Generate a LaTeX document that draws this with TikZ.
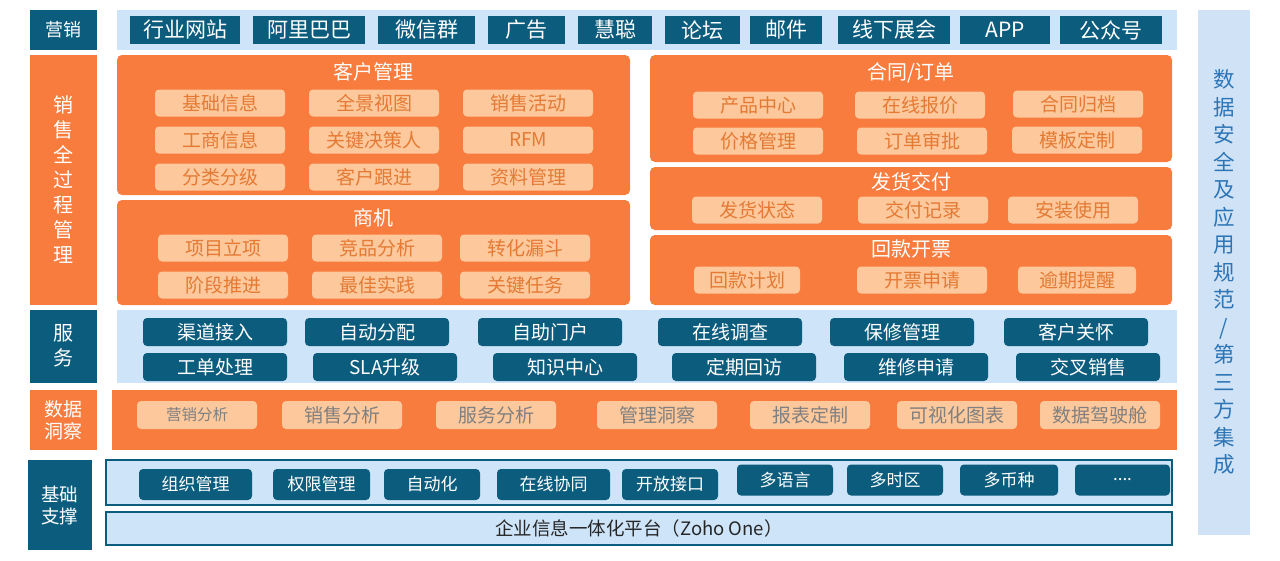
\documentclass[tikz,border=0pt]{standalone}
\usepackage{fontspec}
\setmainfont{Noto Sans CJK SC}
\definecolor{dblue}{RGB}{12,92,126}
\definecolor{lblue}{RGB}{206,228,248}
\definecolor{rblue}{RGB}{208,227,246}
\definecolor{rtext}{RGB}{46,117,182}
\definecolor{orng}{RGB}{248,124,62}
\definecolor{peach}{RGB}{252,200,156}
\definecolor{otext}{RGB}{228,122,52}
\definecolor{gtext}{RGB}{128,128,128}
\begin{document}
\begin{tikzpicture}[x=1pt,y=-1pt,
  every node/.style={inner sep=0pt,outer sep=0pt},
  area/.style={anchor=north west},
  topitem/.style={fill=dblue,text=white,minimum height=28pt,font=\fontsize{21}{23}\selectfont},
  pitem/.style={fill=peach,rounded corners=4pt,text=otext,minimum height=27pt,minimum width=130pt,font=\fontsize{19}{21}\selectfont},
  gitem/.style={fill=peach,rounded corners=4pt,text=gtext,minimum height=28pt,minimum width=120pt,font=\fontsize{19}{21}\selectfont},
  sitem/.style={fill=dblue,rounded corners=4pt,text=white,minimum height=28pt,minimum width=144pt,font=\fontsize{19}{21}\selectfont},
  fitem/.style={fill=dblue,rounded corners=4pt,text=white,minimum height=31pt,font=\fontsize{17}{19}\selectfont},
  ttl/.style={text=white,font=\fontsize{20}{22}\selectfont},
  lbl/.style={text=white,align=center}
]
\useasboundingbox (0,0) rectangle (1280,560);

% ---------- marketing row
\node[area,fill=dblue,minimum width=67pt,minimum height=40pt] (mkl) at (30,10) {};
\node[lbl,font=\fontsize{18}{20}\selectfont] (mklt) at (mkl.center) {营销};
\node[area,fill=lblue,minimum width=1060pt,minimum height=40pt] (mkb) at (117,10) {};
\node[topitem,minimum width=110pt] (t1) at (185,30) {行业网站};
\node[topitem,minimum width=112pt] (t2) at (309,30) {阿里巴巴};
\node[topitem,minimum width=97pt] (t3) at (426.5,30) {微信群};
\node[topitem,minimum width=77pt] (t4) at (526.5,30) {广告};
\node[topitem,minimum width=74pt] (t5) at (615,30) {慧聪};
\node[topitem,minimum width=75pt] (t6) at (702.5,30) {论坛};
\node[topitem,minimum width=72pt] (t7) at (786,30) {邮件};
\node[topitem,minimum width=112pt] (t8) at (894,30) {线下展会};
\node[topitem,minimum width=90pt] (t9) at (1005,30) {APP};
\node[topitem,minimum width=102pt] (t10) at (1111,30) {公众号};

% ---------- right band
\node[area,fill=rblue,minimum width=52pt,minimum height=525pt] (rb) at (1198,10) {};
\node[text=rtext,align=center,font=\fontsize{21.5}{27.5}\selectfont] (rbt) at (1224,272)
  {数\\据\\安\\全\\及\\应\\用\\规\\范\\/\\第\\三\\方\\集\\成};

% ---------- sales process
\node[area,fill=orng,minimum width=67pt,minimum height=250pt] (spl) at (30,55) {};
\node[lbl,font=\fontsize{20}{25}\selectfont] (splt) at (63.5,180) {销\\售\\全\\过\\程\\管\\理};

% customer management
\node[area,fill=orng,rounded corners=5pt,minimum width=513pt,minimum height=140pt] (km) at (117,55) {};
\node[ttl] (kmt) at (373.5,72) {客户管理};
\node[pitem] (k11) at (220,103) {基础信息};
\node[pitem] (k12) at (374,103) {全景视图};
\node[pitem] (k13) at (528,103) {销售活动};
\node[pitem] (k21) at (220,140) {工商信息};
\node[pitem] (k22) at (374,140) {关键决策人};
\node[pitem] (k23) at (528,140) {RFM};
\node[pitem] (k31) at (220,177) {分类分级};
\node[pitem] (k32) at (374,177) {客户跟进};
\node[pitem] (k33) at (528,177) {资料管理};

% opportunity
\node[area,fill=orng,rounded corners=5pt,minimum width=513pt,minimum height=105pt] (sj) at (117,200) {};
\node[ttl] (sjt) at (373.5,218) {商机};
\node[pitem] (s11) at (223,248) {项目立项};
\node[pitem] (s12) at (377,248) {竞品分析};
\node[pitem] (s13) at (525,248) {转化漏斗};
\node[pitem] (s21) at (223,285) {阶段推进};
\node[pitem] (s22) at (377,285) {最佳实践};
\node[pitem] (s23) at (525,285) {关键任务};

% contract / order
\node[area,fill=orng,rounded corners=5pt,minimum width=522pt,minimum height=107pt] (ht) at (650,55) {};
\node[ttl] (htt) at (911,73) {合同/订单};
\node[pitem] (h11) at (758,105) {产品中心};
\node[pitem] (h12) at (920,105) {在线报价};
\node[pitem] (h13) at (1078,104) {合同归档};
\node[pitem] (h21) at (758,141) {价格管理};
\node[pitem] (h22) at (922,141) {订单审批};
\node[pitem] (h23) at (1077,140) {模板定制};

% delivery
\node[area,fill=orng,rounded corners=5pt,minimum width=522pt,minimum height=63pt] (fh) at (650,167) {};
\node[ttl] (fht) at (911,182) {发货交付};
\node[pitem] (f1) at (757,210) {发货状态};
\node[pitem] (f2) at (923,210) {交付记录};
\node[pitem] (f3) at (1073,210) {安装使用};

% payment / invoice
\node[area,fill=orng,rounded corners=5pt,minimum width=522pt,minimum height=70pt] (hk) at (650,235) {};
\node[ttl] (hkt) at (911,249) {回款开票};
\node[pitem,minimum width=106pt] (p1) at (747,280) {回款计划};
\node[pitem] (p2) at (922,280) {开票申请};
\node[pitem,minimum width=118pt] (p3) at (1077,280) {逾期提醒};

% ---------- service
\node[area,fill=dblue,minimum width=67pt,minimum height=73pt] (svl) at (30,310) {};
\node[lbl,font=\fontsize{20}{25}\selectfont] (svlt) at (63.5,346) {服\\务};
\node[area,fill=lblue,minimum width=1060pt,minimum height=73pt] (svb) at (117,310) {};
\node[sitem] (v11) at (215,332) {渠道接入};
\node[sitem] (v12) at (377,332) {自动分配};
\node[sitem] (v13) at (550,332) {自助门户};
\node[sitem] (v14) at (730,332) {在线调查};
\node[sitem] (v15) at (902,332) {保修管理};
\node[sitem] (v16) at (1076,332) {客户关怀};
\node[sitem] (v21) at (215,367) {工单处理};
\node[sitem] (v22) at (385,367) {SLA升级};
\node[sitem] (v23) at (565,367) {知识中心};
\node[sitem] (v24) at (744,367) {定期回访};
\node[sitem] (v25) at (916,367) {维修申请};
\node[sitem] (v26) at (1088,367) {交叉销售};

% ---------- data insight
\node[area,fill=orng,minimum width=67pt,minimum height=60pt] (dil) at (30,390) {};
\node[lbl,font=\fontsize{19}{22}\selectfont] (dilt) at (63.5,420) {数据\\洞察};
\node[area,fill=orng,minimum width=1065pt,minimum height=60pt] (dib) at (112,390) {};
\node[gitem,font=\fontsize{15.5}{17}\selectfont] (d1) at (197,415) {营销分析};
\node[gitem] (d2) at (342,415) {销售分析};
\node[gitem] (d3) at (496,415) {服务分析};
\node[gitem] (d4) at (657,415) {管理洞察};
\node[gitem] (d5) at (810,415) {报表定制};
\node[gitem] (d6) at (957,415) {可视化图表};
\node[gitem] (d7) at (1100,415) {数据驾驶舱};

% ---------- foundation
\node[area,fill=dblue,minimum width=64pt,minimum height=90pt] (fdl) at (28,460) {};
\node[lbl,font=\fontsize{18.5}{22}\selectfont] (fdlt) at (60,505) {基础\\支撑};
\node[area,fill=lblue,draw=dblue,line width=1.5pt,minimum width=1066pt,minimum height=45pt] (fdb) at (106,460) {};
\node[fitem,minimum width=113pt] (b1) at (195.5,484.5) {组织管理};
\node[fitem,minimum width=97pt] (b2) at (321.5,484.5) {权限管理};
\node[fitem,minimum width=96pt] (b3) at (432,484.5) {自动化};
\node[fitem,minimum width=113pt] (b4) at (553.5,484.5) {在线协同};
\node[fitem,minimum width=96pt] (b5) at (670,484.5) {开放接口};
\node[fitem,minimum width=96pt] (b6) at (785,480) {多语言};
\node[fitem,minimum width=96pt] (b7) at (895,480) {多时区};
\node[fitem,minimum width=98pt] (b8) at (1009,480) {多币种};
\node[fitem,minimum width=95pt] (b9) at (1122.5,480) {....};
\node[area,fill=lblue,draw=dblue,line width=1.5pt,minimum width=1066pt,minimum height=33pt] (pf) at (106,512) {};
\node[text=black!85,font=\fontsize{18.5}{20}\selectfont] (pft) at (pf.center) {企业信息一体化平台（Zoho One）};
\end{tikzpicture}
\end{document}
